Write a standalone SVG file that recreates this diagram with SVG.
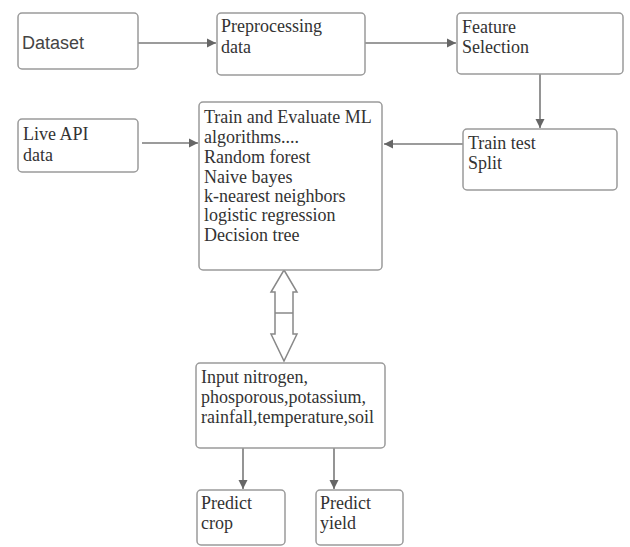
<svg xmlns="http://www.w3.org/2000/svg" width="630" height="547" viewBox="0 0 630 547">
<style>
.box{fill:#fff;stroke:#9a9a9a;stroke-width:1.5}
.sh{fill:none;stroke:#d4d4d4;stroke-width:2}
.t{font-family:"Liberation Serif","Times New Roman",serif;font-size:18px;fill:#333}
.s{font-family:"Liberation Sans",Arial,sans-serif;font-size:18px;fill:#444}
.c{stroke:#7a7a7a;stroke-width:1.6;fill:none}
</style>
<defs>
<marker id="ah" markerWidth="10" markerHeight="10" refX="9" refY="5" orient="auto" markerUnits="userSpaceOnUse">
<path d="M0,0.5 L9,5 L0,9.5 Z" fill="#666"/>
</marker>
</defs>
<rect width="630" height="547" fill="#fff"/>
<g id="connectors">
<line class="c" x1="138" y1="43" x2="216" y2="43" marker-end="url(#ah)"/>
<line class="c" x1="365" y1="43" x2="456" y2="43" marker-end="url(#ah)"/>
<line class="c" x1="540" y1="74" x2="540" y2="128" marker-end="url(#ah)"/>
<line class="c" x1="463" y1="144" x2="384" y2="144" marker-end="url(#ah)"/>
<line class="c" x1="142" y1="143" x2="198" y2="143" marker-end="url(#ah)"/>
<line class="c" x1="243" y1="448" x2="243" y2="489" marker-end="url(#ah)"/>
<line class="c" x1="334" y1="448" x2="334" y2="489" marker-end="url(#ah)"/>
<g id="double-arrow">
<polygon points="284,270 297,292 293,292 293,334 297,334 284,361 271,334 275,334 275,292 271,292" fill="#fff" stroke="#888" stroke-width="1.5" stroke-linejoin="miter"/>
<line x1="275" y1="313" x2="293" y2="313" stroke="#888" stroke-width="1.5"/>
</g>
</g>
<g id="dataset">
<rect class="box" x="18" y="13" width="120" height="56" rx="4"/>
<text class="s" x="22" y="49">Dataset</text>
</g>
<g id="preprocessing">
<rect class="box" x="217" y="13" width="148" height="62" rx="4"/>
<text class="t" x="221" y="32">Preprocessing</text>
<text class="t" x="221" y="53">data</text>
</g>
<g id="feature-selection">
<rect class="box" x="457" y="13" width="166" height="61" rx="4"/>
<text class="t" x="462" y="33">Feature</text>
<text class="t" x="462" y="53">Selection</text>
</g>
<g id="train-test-split">
<rect class="box" x="463" y="129" width="154" height="61" rx="4"/>
<text class="t" x="468" y="149">Train test</text>
<text class="t" x="468" y="169">Split</text>
</g>
<g id="live-api">
<rect class="box" x="18" y="119" width="120" height="53" rx="4"/>
<text class="t" x="23" y="140">Live API</text>
<text class="t" x="23" y="161">data</text>
</g>
<g id="ml-algorithms">
<rect class="box" x="199" y="102" width="183" height="168" rx="4"/>
<text class="t" x="204" y="123">Train and Evaluate ML</text>
<text class="t" x="204" y="143">algorithms....</text>
<text class="t" x="204" y="163">Random forest</text>
<text class="t" x="204" y="183">Naive bayes</text>
<text class="t" x="204" y="202">k-nearest neighbors</text>
<text class="t" x="204" y="221">logistic regression</text>
<text class="t" x="204" y="241">Decision tree</text>
</g>
<g id="input">
<rect class="box" x="196" y="363" width="189" height="85" rx="4"/>
<text class="t" x="201" y="383">Input nitrogen,</text>
<text class="t" x="201" y="403">phosporous,potassium,</text>
<text class="t" x="201" y="423">rainfall,temperature,soil</text>
</g>
<g id="predict-crop">
<rect class="box" x="197" y="490" width="88" height="55" rx="4"/>
<text class="t" x="201" y="509">Predict</text>
<text class="t" x="201" y="529">crop</text>
</g>
<g id="predict-yield">
<rect class="box" x="316" y="490" width="87" height="55" rx="4"/>
<text class="t" x="320" y="509">Predict</text>
<text class="t" x="320" y="529">yield</text>
</g>
</svg>
